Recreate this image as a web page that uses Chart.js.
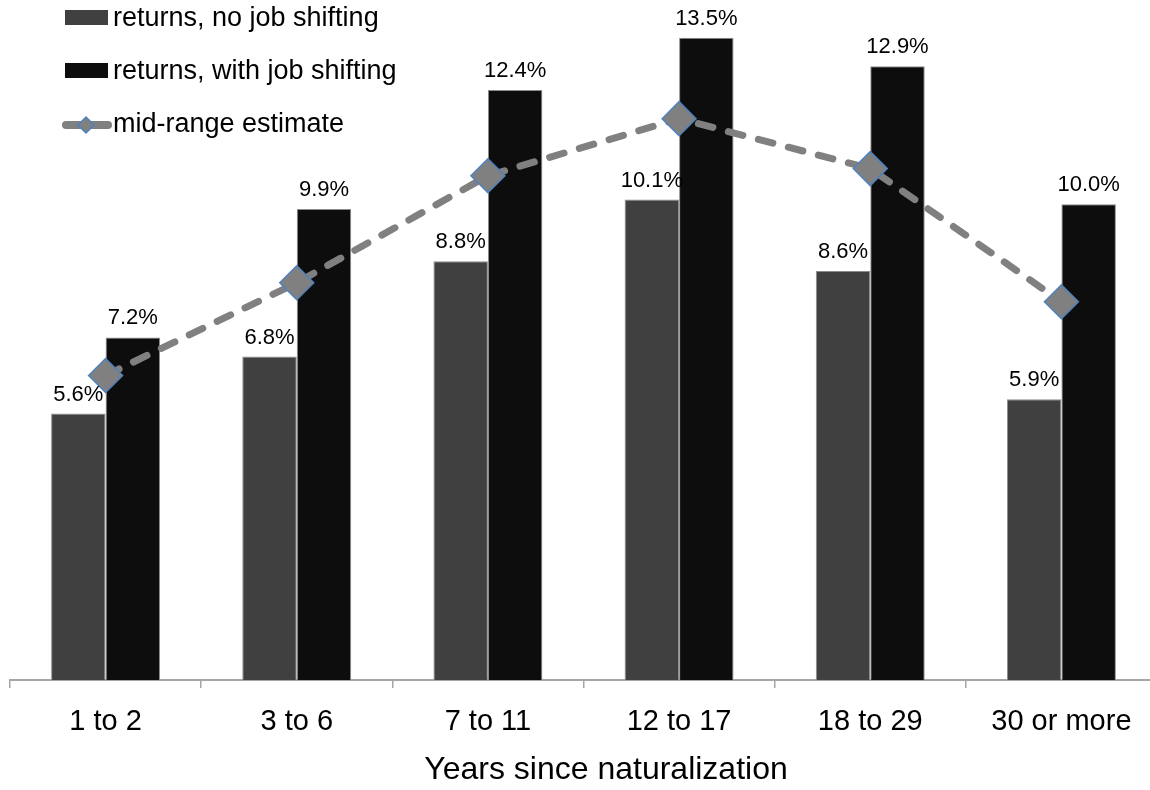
<!DOCTYPE html>
<html>
<head>
<meta charset="utf-8">
<script src="https://cdn.jsdelivr.net/npm/chart.js@4/dist/chart.umd.min.js"></script>
<style>
    html, body { margin: 0; padding: 0; background: #fff; overflow: hidden; }
    canvas { display: block; }
</style>
</head>
<body>
<canvas id="chart" width="1160" height="790"></canvas>
<script>
const categories = ['1 to 2', '3 to 6', '7 to 11', '12 to 17', '18 to 29', '30 or more'];
const noShifting = [5.6, 6.8, 8.8, 10.1, 8.6, 5.9];
const withShifting = [7.2, 9.9, 12.4, 13.5, 12.9, 10.0];
const midRange = [6.4, 8.35, 10.6, 11.8, 10.75, 7.95];
const axisTitle = 'Years since naturalization';

const FONT = '"Liberation Sans", Arial, sans-serif';

// value labels above the bars
const barLabels = {
    id: 'barLabels',
    afterDatasetsDraw(chart) {
        const ctx = chart.ctx;
        ctx.save();
        ctx.font = '22px ' + FONT;
        ctx.fillStyle = '#000';
        ctx.textAlign = 'center';
        ctx.textBaseline = 'alphabetic';
        chart.data.datasets.forEach((ds, i) => {
            if (ds.type !== 'bar') return;
            chart.getDatasetMeta(i).data.forEach((bar, j) => {
                ctx.fillText(ds.data[j].toFixed(1) + '%', bar.x, bar.y - 13);
            });
        });
        ctx.restore();
    }
};

// vertical legend in the top-left corner + axis title
const sideLegend = {
    id: 'sideLegend',
    afterDraw(chart) {
        const ctx = chart.ctx;
        const ds = chart.data.datasets;
        ctx.save();
        ctx.font = '27px ' + FONT;
        ctx.fillStyle = '#000';
        ctx.textBaseline = 'alphabetic';

        const rows = [26, 79, 132];
        // bar entries
        [0, 1].forEach(k => {
            const d = ds.find(x => x.legendIdx === k);
            ctx.fillStyle = d.backgroundColor;
            ctx.fillRect(65, rows[k] - 16, 43, 15);
            ctx.fillStyle = '#000';
            ctx.fillText(d.label, 113, rows[k]);
        });
        // line entry
        const line = ds.find(x => x.legendIdx === 2);
        ctx.strokeStyle = line.borderColor;
        ctx.lineWidth = 8;
        ctx.lineCap = 'round';
        ctx.beginPath();
        ctx.moveTo(66, 125);
        ctx.lineTo(108, 125);
        ctx.stroke();
        ctx.fillStyle = line.pointBackgroundColor;
        ctx.strokeStyle = line.pointBorderColor;
        ctx.lineWidth = 1.5;
        Chart.helpers.drawPoint(ctx, { pointStyle: 'rectRot', radius: 8, rotation: 0, borderWidth: 1.5 }, 86, 125);
        ctx.fillStyle = '#000';
        ctx.fillText(line.label, 113, rows[2]);

        // axis title
        ctx.font = '32px ' + FONT;
        ctx.textAlign = 'center';
        ctx.fillText(axisTitle, 606, 779);
        ctx.restore();
    }
};

new Chart(document.getElementById('chart'), {
    data: {
        labels: categories,
        datasets: [
            {
                type: 'line',
                label: 'mid-range estimate',
                legendIdx: 2,
                data: midRange,
                order: 0,
                borderColor: '#808080',
                borderWidth: 7,
                borderDash: [15, 16],
                borderCapStyle: 'round',
                tension: 0,
                fill: false,
                clip: false,
                pointStyle: 'rectRot',
                pointRadius: 17,
                pointHoverRadius: 17,
                pointBackgroundColor: '#808080',
                pointBorderColor: '#4f81bd',
                pointBorderWidth: 1.5
            },
            {
                type: 'bar',
                label: 'returns, no job shifting',
                legendIdx: 0,
                data: noShifting,
                order: 1,
                backgroundColor: '#404040',
                borderColor: '#8c8c8c',
                borderWidth: 1,
                categoryPercentage: 0.57,
                barPercentage: 1.0
            },
            {
                type: 'bar',
                label: 'returns, with job shifting',
                legendIdx: 1,
                data: withShifting,
                order: 1,
                backgroundColor: '#0d0d0d',
                borderColor: '#8c8c8c',
                borderWidth: 1,
                categoryPercentage: 0.57,
                barPercentage: 1.0
            }
        ]
    },
    options: {
        responsive: false,
        animation: false,
        layout: { autoPadding: false, padding: { top: 14, left: 10, right: 3, bottom: 0 } },
        plugins: {
            legend: { display: false },
            tooltip: { enabled: false }
        },
        scales: {
            x: {
                offset: true,
                grid: {
                    offset: true,
                    drawOnChartArea: false,
                    drawTicks: true,
                    tickLength: 8,
                    color: '#a6a6a6',
                    lineWidth: 1.5
                },
                border: { display: true, color: '#a6a6a6', width: 2 },
                ticks: {
                    color: '#000',
                    padding: 17,
                    font: { family: FONT, size: 29 }
                },
                afterFit: s => {
                    s.height = 110;
                    s.paddingLeft = 0;
                    s.paddingRight = 0;
                }
            },
            y: {
                display: false,
                min: 0,
                max: 14
            }
        }
    },
    plugins: [barLabels, sideLegend]
});
</script>
</body>
</html>
